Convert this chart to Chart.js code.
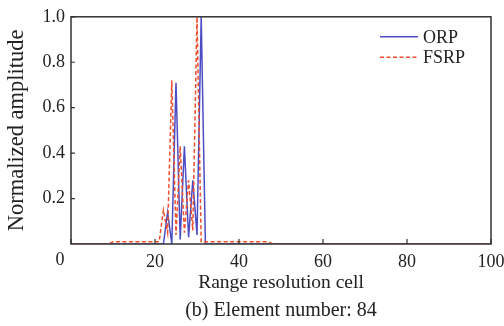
<!DOCTYPE html>
<html>
<head>
<meta charset="utf-8">
<script src="https://cdn.jsdelivr.net/npm/chart.js@4/dist/chart.umd.min.js"></script>
<style>
html,body{margin:0;padding:0;background:#fff;}
#wrap{width:504px;height:326px;}
</style>
</head>
<body>
<div id="wrap"><canvas id="c" width="504" height="326"></canvas></div>
<script>
// Range resolution cells 0..100
const cells = [0,1,2,3,4,5,6,7,8,9,10,11,12,13,14,15,16,17,18,19,20,21,22,23,24,25,26,27,28,29,30,31,32,33,34,35,36,37,38,39,40,41,42,43,44,45,46,47,48,49,50,51,52,53,54,55,56,57,58,59,60,61,62,63,64,65,66,67,68,69,70,71,72,73,74,75,76,77,78,79,80,81,82,83,84,85,86,87,88,89,90,91,92,93,94,95,96,97,98,99,100];
// ORP normalized amplitude (solid blue)
const orp = [0,0,0,0,0,0,0,0,0,0, 0,0,0,0,0,0,0,0,0,0, 0,0,0,0.14,0,0.71,0.02,0.43,0.03,0.28, 0.04,1.0,0,0,0,0,0,0,0,0, 0,0,0,0,0,0,0,0,0,0, 0,0,0,0,0,0,0,0,0,0, 0,0,0,0,0,0,0,0,0,0, 0,0,0,0,0,0,0,0,0,0, 0,0,0,0,0,0,0,0,0,0, 0,0,0,0,0,0,0,0,0,0, 0];
// FSRP normalized amplitude (dashed red)
const fsrp = [0,0,0,0,0,0,0,0,0,0, 0.01,0.01,0.01,0.01,0.01,0.01,0.01,0.01,0.01,0.01, 0.01,0.01,0.15,0.05,0.72,0.04,0.43,0.05,0.28,0.06, 1.0,0.01,0.01,0.01,0.01,0.01,0.01,0.01,0.01,0.01, 0.01,0.01,0.01,0.01,0.01,0.01,0.01,0.01,0,0, 0,0,0,0,0,0,0,0,0,0, 0,0,0,0,0,0,0,0,0,0, 0,0,0,0,0,0,0,0,0,0, 0,0,0,0,0,0,0,0,0,0, 0,0,0,0,0,0,0,0,0,0, 0];
const xTicks = [0,20,40,60,80,100];
const yTicks = [0.2,0.4,0.6,0.8,1.0];
const seriesNames = ['ORP','FSRP'];

const FONT = 'Liberation Serif';
const TXT = '#222';
const BLUE = '#4c4cc4';
const RED = '#ef4d2c';

const framePlugin = {
  id: 'frame',
  afterDatasetsDraw(chart) {
    const {ctx, chartArea: a, scales: {x, y}} = chart;
    ctx.save();
    ctx.strokeStyle = '#333';
    ctx.lineWidth = 1.5;
    ctx.strokeRect(a.left, a.top, a.right - a.left, a.bottom - a.top);
    ctx.lineWidth = 1.2;
    ctx.beginPath();
    xTicks.forEach(v => { const px = x.getPixelForValue(v); ctx.moveTo(px, a.bottom); ctx.lineTo(px, a.bottom - 5); });
    yTicks.forEach(v => { const py = y.getPixelForValue(v); ctx.moveTo(a.left, py); ctx.lineTo(a.left + 4, py); });
    ctx.stroke();
    // "0" label of x axis, shifted left as in the original
    ctx.fillStyle = TXT;
    ctx.font = '18px "' + FONT + '"';
    ctx.textAlign = 'center';
    ctx.textBaseline = 'top';
    ctx.fillText(String(xTicks[0]), x.getPixelForValue(xTicks[0]) - 11, a.bottom + 7);
    // legend
    const ds = chart.data.datasets;
    ctx.textAlign = 'left';
    ctx.textBaseline = 'middle';
    [0,1].forEach((i, k) => {
      const yy = a.top + 20 + k * 20.5;
      ctx.strokeStyle = ds[i].borderColor;
      ctx.lineWidth = 1.5;
      ctx.setLineDash(ds[i].borderDash || []);
      ctx.beginPath();
      ctx.moveTo(a.right - 111, yy);
      ctx.lineTo(a.right - 73, yy);
      ctx.stroke();
      ctx.setLineDash([]);
      ctx.fillStyle = TXT;
      ctx.fillText(ds[i].label, a.right - 68, yy + 1);
    });
    ctx.restore();
  }
};

new Chart(document.getElementById('c'), {
  type: 'line',
  data: {
    datasets: [
      { label: seriesNames[0], data: cells.map((c, i) => ({x: c, y: orp[i]})), borderColor: BLUE, borderWidth: 1.5, pointRadius: 0, tension: 0, order: 1 },
      { label: seriesNames[1], data: cells.map((c, i) => ({x: c, y: fsrp[i]})), borderColor: RED, borderWidth: 1.5, borderDash: [4, 2.5], pointRadius: 0, tension: 0, order: 0 }
    ]
  },
  plugins: [framePlugin],
  options: {
    responsive: false,
    animation: false,
    layout: { padding: { top: 15, right: 13, left: 0, bottom: 0 } },
    plugins: {
      legend: { display: false },
      tooltip: { enabled: false },
      title: {
        display: true, position: 'bottom', fullSize: false, text: '(b) Element number: 84',
        color: TXT, font: { family: FONT, size: 20, weight: 'normal' },
        padding: { top: 0, bottom: 3 }
      }
    },
    scales: {
      x: {
        type: 'linear', min: 0, max: 100,
        afterBuildTicks(s) { s.ticks = xTicks.map(v => ({value: v})); },
        afterFit(s) { s.height = 55; s.paddingLeft = 0; s.paddingRight = 0; },
        grid: { display: false, drawTicks: false },
        border: { display: false },
        ticks: { color: TXT, font: { family: FONT, size: 18 }, padding: 7, maxRotation: 0, autoSkip: false,
          callback: v => v === 0 ? '' : String(v) },
        title: { display: true, text: 'Range resolution cell', color: TXT, font: { family: FONT, size: 19.5 }, padding: { top: 0, bottom: 4 } }
      },
      y: {
        type: 'linear', min: 0, max: 1,
        afterBuildTicks(s) { s.ticks = [0].concat(yTicks).map(v => ({value: v})); },
        afterFit(s) { s.width = 71; },
        grid: { display: false, drawTicks: false },
        border: { display: false },
        ticks: { color: TXT, font: { family: FONT, size: 18 }, padding: 6,
          callback: v => v === 0 ? '' : v.toFixed(1) },
        title: { display: true, text: 'Normalized amplitude', color: TXT, font: { family: FONT, size: 22.5 }, padding: { top: 3.5, bottom: 0 } }
      }
    }
  }
});
</script>
</body>
</html>
